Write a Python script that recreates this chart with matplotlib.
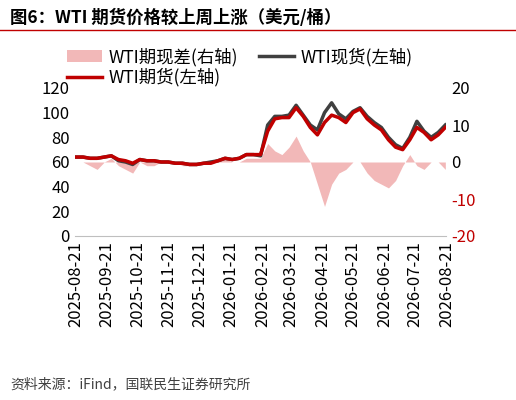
import numpy as np
import pandas as pd
import matplotlib.pyplot as plt
import matplotlib.dates as mdates

plt.rcParams['font.family'] = ['Noto Sans CJK SC', 'DejaVu Sans']
plt.rcParams['axes.unicode_minus'] = False

dates = pd.date_range('2025-08-21', periods=53, freq='7D')
futures = [64, 64, 63, 63, 64, 65, 62, 61, 59, 62, 61, 61, 60, 60, 59, 59, 58, 58, 59, 59,
           61, 63, 62, 63, 66, 66, 66, 85, 95, 96, 96, 104, 97, 88, 82, 92, 98, 96, 92, 100,
           103, 95, 90, 86, 78, 72, 70, 78, 88, 84, 78, 82, 88]
spot = [64, 64, 63, 63, 64, 65, 61, 60, 58, 62, 61, 61, 60, 60, 59, 59, 58, 58, 59, 60,
        61, 63, 62, 63, 66, 66, 65, 90, 97, 97, 98, 106, 98, 90, 86, 100, 108, 99, 95, 101,
        104, 97, 92, 88, 80, 74, 71, 80, 93, 85, 80, 84, 90]
spread = [0, 0, -1, -2, 0, 1, -1, -2, -3, 0, -1, -1, 0, 0, 0, -1, -1, -1, 0, 0,
          1, 1, 0, 0, 1, 1, 1, 5, 3, 2, 4, 7, 3, 0, -6, -12, -6, -3, -2, 0,
          0, -3, -5, -6, -7, -5, -1, 2, -1, -2, 0, 0, -2]
month_ticks = pd.date_range('2025-08-01', '2026-08-01', freq='MS') + pd.Timedelta(days=20)

fig = plt.figure(figsize=(5.16, 4.0), dpi=100)
ax = fig.add_axes([0.145, 0.41, 0.72, 0.37])
ax2 = ax.twinx()

ax2.fill_between(dates, 0, spread, color='#f2b8b8', lw=0, label='WTI期现差(右轴)')
ax.plot(dates, spot, color='#404040', lw=2.5, label='WTI现货(左轴)')
ax.plot(dates, futures, color='#c00000', lw=2.5, label='WTI期货(左轴)')
ax.set_zorder(ax2.get_zorder() + 1)
ax.patch.set_visible(False)

ax.set_ylim(0, 120)
ax.set_yticks(range(0, 121, 20))
ax2.set_ylim(-20, 20)
ax2.set_yticks(range(-20, 21, 10))
for lab, v in zip(ax2.get_yticklabels(), range(-20, 21, 10)):
    if v < 0:
        lab.set_color('#c00000')
ax.set_xlim(dates[0] - pd.Timedelta(days=1), dates[-1] + pd.Timedelta(days=1))
ax.set_xticks(month_ticks)
ax.xaxis.set_major_formatter(mdates.DateFormatter('%Y-%m-%d'))
plt.setp(ax.get_xticklabels(), rotation=90)
for a in (ax, ax2):
    a.tick_params(labelsize=12, length=0)
    for s in ['top', 'right', 'left']:
        a.spines[s].set_visible(False)
ax2.spines['bottom'].set_visible(False)
ax.spines['bottom'].set_color('#bfbfbf')

h1, l1 = ax2.get_legend_handles_labels()
h2, l2 = ax.get_legend_handles_labels()
fig.legend([h1[0], h2[1], h2[0]], [l1[0], l2[1], l2[0]], ncol=2, frameon=False,
           fontsize=12.5, loc='upper left', bbox_to_anchor=(0.1, 0.92),
           handlelength=2, columnspacing=1.2, labelspacing=0.1, handletextpad=0.4)

fig.text(0.02, 0.955, '图6：WTI 期货价格较上周上涨（美元/桶）', fontsize=12.5,
         fontweight='bold', va='center')
fig.add_artist(plt.Line2D([0.0, 1.0], [0.925, 0.925], color='#c00000', lw=1))
fig.text(0.02, 0.03, '资料来源：iFind，国联民生证券研究所', fontsize=10, color='#404040')

fig.savefig('out.png')
